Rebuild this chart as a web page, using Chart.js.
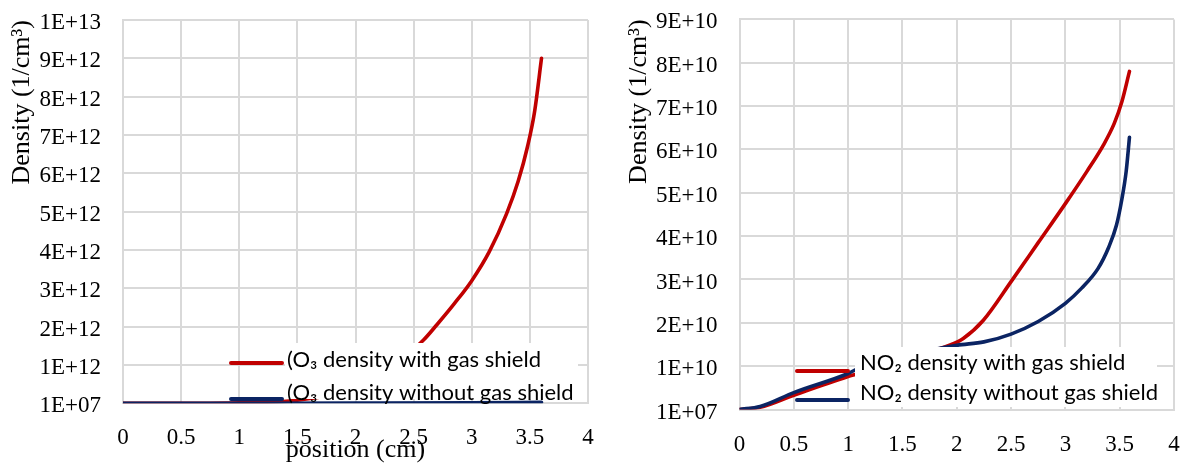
<!DOCTYPE html>
<html><head><meta charset="utf-8">
<script src="https://cdn.jsdelivr.net/npm/chart.js@4"></script>
<style>
html,body{margin:0;padding:0;background:#fff;width:1181px;height:466px;overflow:hidden}
#l{position:absolute;left:0;top:0;width:600px;height:466px}
#r{position:absolute;left:600px;top:0;width:581px;height:466px}
</style></head><body>
<div id="l"><canvas id="c1"></canvas></div>
<div id="r"><canvas id="c2"></canvas></div>
<script>
// ---- tick labels ----
const xTicks = ["0","0.5","1","1.5","2","2.5","3","3.5","4"];
const yTicksO3 = ["1E+07","1E+12","2E+12","3E+12","4E+12","5E+12","6E+12","7E+12","8E+12","9E+12","1E+13"];
const yTicksNO2 = ["1E+07","1E+10","2E+10","3E+10","4E+10","5E+10","6E+10","7E+10","8E+10","9E+10"];

// ---- left panel: O3 (position cm, density 1/cm3) ----
const posO3With = [0, 0.5, 1, 1.5, 2, 2.3, 2.585, 2.7, 2.85, 3.0, 3.15, 3.3, 3.4, 3.48, 3.54, 3.6];
const o3With    = [1e7, 1e9, 1.5e10, 8e10, 4e11, 9e11, 1.65e12, 2.05e12, 2.6e12, 3.2e12, 3.95e12, 4.95e12, 5.8e12, 6.7e12, 7.6e12, 9.0e12];
const posO3Without = [0, 1, 2, 3, 3.6];
const o3Without    = [1e7, 2e9, 5e9, 1.2e10, 2.5e10];

// ---- right panel: NO2 ----
const posNO2With = [0, 0.19, 0.5, 1, 1.08, 1.5, 1.94, 2.06, 2.245, 2.5, 2.75, 3.0, 3.2, 3.35, 3.45, 3.52, 3.59];
const no2With    = [1e7, 0.05e10, 0.33e10, 0.76e10, 0.82e10, 1.15e10, 1.49e10, 1.64e10, 2.06e10, 2.95e10, 3.85e10, 4.75e10, 5.5e10, 6.1e10, 6.6e10, 7.1e10, 7.8e10];
const posNO2Without = [0, 0.19, 0.5, 1, 1.08, 1.5, 2.0, 2.25, 2.5, 2.75, 3.0, 3.15, 3.3, 3.4, 3.47, 3.52, 3.56, 3.59];
const no2Without    = [1e7, 0.07e10, 0.39e10, 0.83e10, 0.93e10, 1.22e10, 1.48e10, 1.56e10, 1.74e10, 2.03e10, 2.45e10, 2.8e10, 3.25e10, 3.75e10, 4.25e10, 4.85e10, 5.5e10, 6.28e10];

const labelsO3  = ["(O\u2083 density with gas shield", "(O\u2083 density without gas shield"];
const labelsNO2 = ["NO\u2082 density with gas shield", "NO\u2082 density without gas shield"];

const RED = '#C00000', BLUE = '#0B2463', GRID = '#d9d9d9';
const pts = (xs, ys) => xs.map((x, i) => ({x, y: ys[i]}));

const boxLegend = {
  id: 'boxLegend',
  afterDraw(chart, args, o) {
    const ctx = chart.ctx;
    ctx.save();
    ctx.fillStyle = '#fff';
    ctx.fillRect(o.box[0], o.box[1], o.box[2] - o.box[0], o.box[3] - o.box[1]);
    o.items.forEach((di, k) => {
      const ds = chart.data.datasets[di];
      ctx.strokeStyle = ds.borderColor;
      ctx.lineWidth = 4;
      ctx.lineCap = 'round';
      ctx.beginPath();
      ctx.moveTo(o.sx[0], o.sy[k]);
      ctx.lineTo(o.sx[1], o.sy[k]);
      ctx.stroke();
      ctx.fillStyle = '#000';
      ctx.font = o.font;
      ctx.textBaseline = 'middle';
      ctx.textAlign = 'left';
      ctx.fillText(ds.label, o.tx, o.ty[k]);
    });
    ctx.restore();
  }
};

function makeChart(id, cfg) {
  const tickFont = {family: '"Liberation Serif", "Times New Roman", serif', size: 23};
  const titleFont = {family: '"Liberation Serif", "Times New Roman", serif', size: 26};
  return new Chart(document.getElementById(id), {
    type: 'line',
    data: {
      datasets: [
        {label: cfg.labels[0], data: pts(cfg.xa, cfg.ya), borderColor: RED, order: 1},
        {label: cfg.labels[1], data: pts(cfg.xb, cfg.yb), borderColor: BLUE, order: 0}
      ]
    },
    plugins: [boxLegend],
    options: {
      responsive: true,
      maintainAspectRatio: false,
      animation: false,
      datasets: {line: {borderWidth: 3.6, pointRadius: 0, fill: false, cubicInterpolationMode: 'monotone', borderCapStyle: 'round'}},
      layout: {padding: cfg.pad},
      plugins: {
        legend: {display: false},
        tooltip: {enabled: false},
        boxLegend: cfg.legend
      },
      scales: {
        x: {
          type: 'linear', min: 0, max: 4,
          afterFit(s) { s.height = cfg.xh; s.paddingLeft = 0; s.paddingRight = 0; },
          ticks: {stepSize: 0.5, font: tickFont, color: '#000', padding: cfg.xpad,
                  callback: (v, i) => xTicks[i]},
          grid: {color: GRID, lineWidth: 2, drawTicks: false},
          border: {color: GRID, width: 2},
          title: {display: !!cfg.xTitle, text: cfg.xTitle || '', font: titleFont, color: '#000', padding: {top: 0, bottom: 0}}
        },
        y: {
          type: 'linear', min: 0, max: cfg.ymax,
          afterFit(s) { s.width = cfg.yw; s.paddingTop = 0; s.paddingBottom = 0; },
          ticks: {stepSize: cfg.ystep, font: tickFont, color: '#000', padding: cfg.ypad, labelOffset: 3,
                  callback: (v, i) => cfg.yTicks[i]},
          grid: {color: GRID, lineWidth: 2, drawTicks: false},
          border: {color: GRID, width: 2},
          title: {display: true, text: 'Density (1/cm\u00B3)', align: 'end', font: titleFont, color: '#000', padding: {top: cfg.ytpad}}
        }
      }
    }
  });
}

makeChart('c1', {
  labels: labelsO3, xa: posO3With, ya: o3With, xb: posO3Without, yb: o3Without,
  ymax: 1e13, ystep: 1e12, yTicks: yTicksO3,
  pad: {top: 20, right: 12, left: 0, bottom: 0},
  yw: 123, xh: 62.7, xpad: 21, ypad: 22, ytpad: 7,
  xTitle: 'position (cm)',
  legend: {box: [285, 343, 578, 399], items: [0, 1], sx: [231, 282], sy: [363, 399],
           tx: 287, ty: [360, 393], font: '22px Lato, "Open Sans", sans-serif'}
});

makeChart('c2', {
  labels: labelsNO2, xa: posNO2With, ya: no2With, xb: posNO2Without, yb: no2Without,
  ymax: 9e10, ystep: 1e10, yTicks: yTicksNO2,
  pad: {top: 19.4, right: 7, left: 0, bottom: 0},
  yw: 139.5, xh: 56.5, xpad: 22, ypad: 22, ytpad: 24,
  xTitle: null,
  legend: {box: [255, 347, 557, 407], items: [0, 1], sx: [197, 248], sy: [371, 400],
           tx: 260, ty: [363, 393], font: '22px Lato, "Open Sans", sans-serif'}
});
</script>
</body></html>
